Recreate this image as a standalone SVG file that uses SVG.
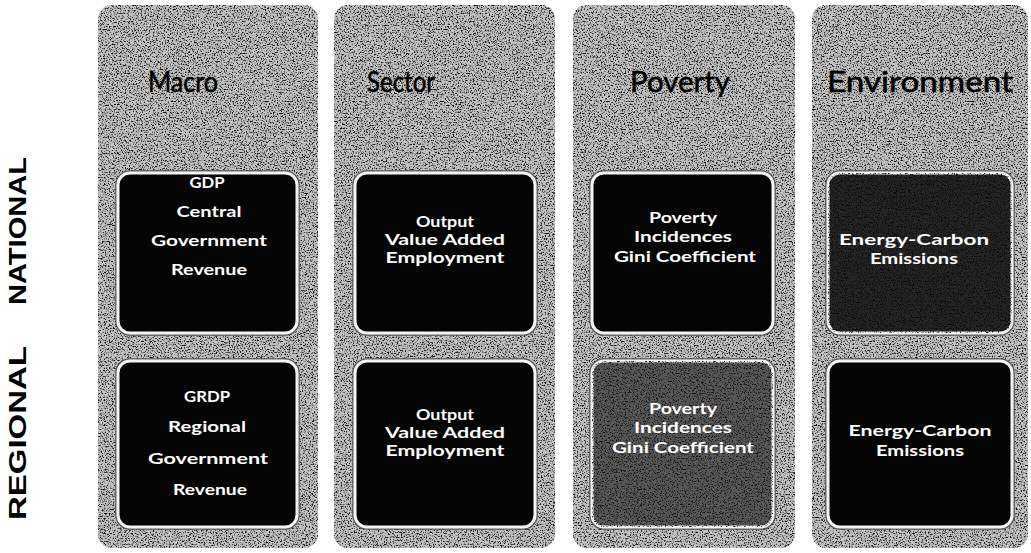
<svg xmlns="http://www.w3.org/2000/svg" width="1031" height="553" viewBox="0 0 1031 553">
  <defs>
    <filter id="grain" x="0" y="0" width="100%" height="100%">
      <feTurbulence type="fractalNoise" baseFrequency="0.75" numOctaves="3" seed="7" result="t"/>
      <feColorMatrix in="t" type="matrix" values="0 0 0 0 0  0 0 0 0 0  0 0 0 0 0  -4 0 0 0 2.05" result="dots"/>
      <feComposite in="dots" in2="SourceGraphic" operator="in"/>
    </filter>
  </defs>
  <style>
    .col { fill: #c4c4c4; }
    .colgrain { fill: #000; filter: url(#grain); }
    .title { font-family: "Lato", "Open Sans", "Liberation Sans", sans-serif; font-size: 28px; fill: #000; stroke: #000; stroke-width: 0.5; text-anchor: middle; }
    .side { font-family: "Liberation Sans", "DejaVu Sans", sans-serif; font-weight: bold; font-size: 23px; fill: #000; text-anchor: middle; }
    .boxOuter { fill: none; stroke: #555; stroke-width: 1.5; }
    .box { fill: #050505; stroke: #f4f4f4; stroke-width: 3; }
    .lbl { font-family: "Lato", "Open Sans", "Liberation Sans", sans-serif; font-weight: bold; font-size: 16px; fill: #fff; text-anchor: middle; }
  </style>
  <rect width="1031" height="553" fill="#ffffff"/>

  <g id="side-labels">
    <text class="side" transform="translate(26,231) rotate(-90)" textLength="148" lengthAdjust="spacingAndGlyphs">NATIONAL</text>
    <text class="side" transform="translate(26,433) rotate(-90)" textLength="174" lengthAdjust="spacingAndGlyphs">REGIONAL</text>
  </g>

  <g id="col-macro">
    <rect class="col" x="98" y="5" width="220" height="543" rx="14"/>
    <rect class="colgrain" x="98" y="5" width="220" height="543" rx="14"/>
    <text class="title" x="183" y="92" textLength="70" lengthAdjust="spacingAndGlyphs">Macro</text>
  </g>
  <g id="col-sector">
    <rect class="col" x="334" y="5" width="221" height="543" rx="14"/>
    <rect class="colgrain" x="334" y="5" width="221" height="543" rx="14"/>
    <text class="title" x="401" y="92" textLength="68" lengthAdjust="spacingAndGlyphs">Sector</text>
  </g>
  <g id="col-poverty">
    <rect class="col" x="573" y="5" width="222" height="543" rx="14"/>
    <rect class="colgrain" x="573" y="5" width="222" height="543" rx="14"/>
    <text class="title" x="680" y="92" textLength="100" lengthAdjust="spacingAndGlyphs">Poverty</text>
  </g>
  <g id="col-environment">
    <rect class="col" x="812" y="5" width="216" height="543" rx="14"/>
    <rect class="colgrain" x="812" y="5" width="216" height="543" rx="14"/>
    <text class="title" x="920" y="92" textLength="186" lengthAdjust="spacingAndGlyphs">Environment</text>
  </g>

  <g id="macro-national">
    <rect class="boxOuter" x="116" y="171" width="183" height="164" rx="14"/>
    <rect class="box" x="118" y="173" width="179" height="160" rx="12"/>
    <text class="lbl" x="207" y="188" textLength="35" lengthAdjust="spacingAndGlyphs">GDP</text>
    <text class="lbl" x="209" y="217" textLength="65" lengthAdjust="spacingAndGlyphs">Central</text>
    <text class="lbl" x="209" y="246" textLength="116" lengthAdjust="spacingAndGlyphs">Government</text>
    <text class="lbl" x="209" y="275" textLength="76" lengthAdjust="spacingAndGlyphs">Revenue</text>
  </g>
  <g id="macro-regional">
    <rect class="boxOuter" x="116" y="359" width="183" height="170" rx="14"/>
    <rect class="box" x="118" y="361" width="179" height="166" rx="12"/>
    <text class="lbl" x="207" y="402" textLength="46" lengthAdjust="spacingAndGlyphs">GRDP</text>
    <text class="lbl" x="207" y="432" textLength="78" lengthAdjust="spacingAndGlyphs">Regional</text>
    <text class="lbl" x="208" y="464" textLength="120" lengthAdjust="spacingAndGlyphs">Government</text>
    <text class="lbl" x="210" y="495" textLength="74" lengthAdjust="spacingAndGlyphs">Revenue</text>
  </g>

  <g id="sector-national">
    <rect class="boxOuter" x="353" y="171" width="184" height="164" rx="14"/>
    <rect class="box" x="355" y="173" width="180" height="160" rx="12"/>
    <text class="lbl" x="445" y="227" textLength="58" lengthAdjust="spacingAndGlyphs">Output</text>
    <text class="lbl" x="445" y="245" textLength="120" lengthAdjust="spacingAndGlyphs">Value Added</text>
    <text class="lbl" x="445" y="263" textLength="119" lengthAdjust="spacingAndGlyphs">Employment</text>
  </g>
  <g id="sector-regional">
    <rect class="boxOuter" x="353" y="359" width="184" height="170" rx="14"/>
    <rect class="box" x="355" y="361" width="180" height="166" rx="12"/>
    <text class="lbl" x="445" y="420" textLength="58" lengthAdjust="spacingAndGlyphs">Output</text>
    <text class="lbl" x="445" y="438" textLength="120" lengthAdjust="spacingAndGlyphs">Value Added</text>
    <text class="lbl" x="445" y="456" textLength="119" lengthAdjust="spacingAndGlyphs">Employment</text>
  </g>

  <g id="poverty-national">
    <rect class="boxOuter" x="590" y="171" width="185" height="164" rx="14"/>
    <rect class="box" x="592" y="173" width="181" height="160" rx="12"/>
    <text class="lbl" x="683" y="223" textLength="68" lengthAdjust="spacingAndGlyphs">Poverty</text>
    <text class="lbl" x="683" y="242" textLength="98" lengthAdjust="spacingAndGlyphs">Incidences</text>
    <text class="lbl" x="685" y="262" textLength="142" lengthAdjust="spacingAndGlyphs">Gini Coefficient</text>
  </g>
  <g id="poverty-regional">
    <rect class="boxOuter" x="590" y="359" width="185" height="170" rx="14"/>
    <rect class="box" x="592" y="361" width="181" height="166" rx="12" style="fill:#5a5a5a"/>
    <rect x="592" y="361" width="181" height="166" rx="12" fill="#000" filter="url(#grain)" opacity="0.9"/>
    <text class="lbl" x="683" y="414" textLength="68" lengthAdjust="spacingAndGlyphs">Poverty</text>
    <text class="lbl" x="683" y="433" textLength="98" lengthAdjust="spacingAndGlyphs">Incidences</text>
    <text class="lbl" x="683" y="453" textLength="142" lengthAdjust="spacingAndGlyphs">Gini Coefficient</text>
  </g>

  <g id="environment-national">
    <rect class="boxOuter" x="826" y="171" width="188" height="164" rx="14"/>
    <rect class="box" x="828" y="173" width="184" height="160" rx="12" style="fill:#262626"/>
    <rect x="828" y="173" width="184" height="160" rx="12" fill="#000" filter="url(#grain)" opacity="0.9"/>
    <text class="lbl" x="914" y="245" textLength="150" lengthAdjust="spacingAndGlyphs">Energy-Carbon</text>
    <text class="lbl" x="914" y="264" textLength="88" lengthAdjust="spacingAndGlyphs">Emissions</text>
  </g>
  <g id="environment-regional">
    <rect class="boxOuter" x="826" y="359" width="188" height="170" rx="14"/>
    <rect class="box" x="828" y="361" width="184" height="166" rx="12"/>
    <text class="lbl" x="920" y="436" textLength="143" lengthAdjust="spacingAndGlyphs">Energy-Carbon</text>
    <text class="lbl" x="920" y="456" textLength="88" lengthAdjust="spacingAndGlyphs">Emissions</text>
  </g>

  <g id="connectors"/>
</svg>
